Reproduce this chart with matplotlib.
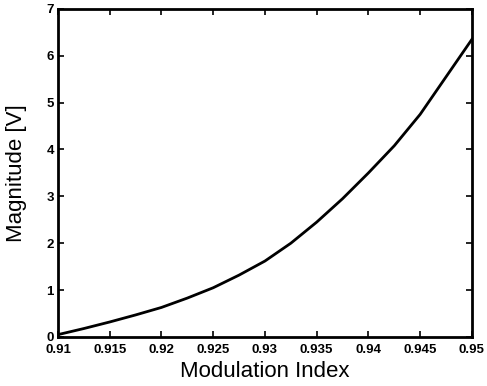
import matplotlib
matplotlib.use("Agg")
import matplotlib.pyplot as plt

# modulation index vs. output magnitude
mod_index = [0.910, 0.9125, 0.915, 0.9175, 0.920, 0.9225, 0.925, 0.9275, 0.930,
             0.9325, 0.935, 0.9375, 0.940, 0.9425, 0.945, 0.9475, 0.950]
magnitude = [0.05, 0.18, 0.32, 0.47, 0.63, 0.83, 1.05, 1.32, 1.62,
             2.00, 2.45, 2.95, 3.50, 4.08, 4.75, 5.55, 6.35]

x_ticks = [0.91, 0.915, 0.92, 0.925, 0.93, 0.935, 0.94, 0.945, 0.95]
x_tick_labels = ["0.91", "0.915", "0.92", "0.925", "0.93", "0.935", "0.94", "0.945", "0.95"]
y_ticks = [0, 1, 2, 3, 4, 5, 6, 7]

plt.rcParams["font.family"] = ["Liberation Sans", "DejaVu Sans"]

fig = plt.figure(figsize=(4.87, 3.86), dpi=100)
ax = fig.add_axes([0.119, 0.127, 0.850, 0.850])

ax.plot(mod_index, magnitude, color="black", linewidth=2.0)

ax.set_xlim(0.91, 0.95)
ax.set_ylim(0, 7)
ax.set_xticks(x_ticks)
ax.set_xticklabels(x_tick_labels)
ax.set_yticks(y_ticks)
ax.tick_params(direction="in", length=4, width=1.2, top=True, right=True,
               labelsize=9.5)
ax.tick_params(axis="x", pad=5)
ax.tick_params(axis="y", pad=3)
for lab in ax.get_xticklabels() + ax.get_yticklabels():
    lab.set_fontweight("bold")
for side in ax.spines.values():
    side.set_linewidth(2.0)

ax.set_xlabel("Modulation Index", fontsize=16, labelpad=4)
ax.set_ylabel("Magnitude [V]", fontsize=16, labelpad=14)

fig.savefig("out.png", dpi=100)
